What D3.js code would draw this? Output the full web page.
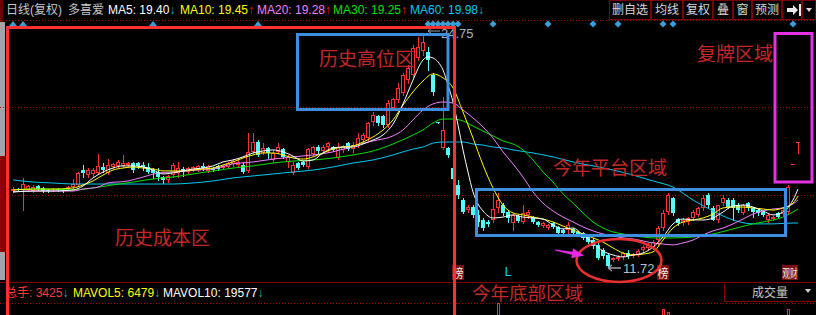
<!DOCTYPE html>
<html>
<head>
<meta charset="utf-8">
<script src="https://cdn.jsdelivr.net/npm/d3@7"></script>
<style>
  html, body { margin: 0; padding: 0; background: #000; }
  svg { display: block; }
  text { font-family: "Liberation Sans", "Noto Sans CJK SC", sans-serif; }
</style>
</head>
<body>
<div id="chart"></div>
<script>
// ---- data ----
// daily candles [open, high, low, close]
const ohlc = [
  [15.95,16.17,15.90,16.06],[16.06,16.12,15.95,16.01],[16.01,16.68,14.89,16.34],[16.01,16.29,15.95,16.23],[15.95,16.29,15.90,16.17],
  [16.23,16.29,16.01,16.06],[16.12,16.17,15.90,15.95],[16.01,16.06,15.90,15.95],[16.01,16.12,15.95,16.06],[16.06,16.12,15.95,16.01],
  [16.01,16.06,15.90,15.95],[16.06,16.23,16.01,16.17],[16.17,16.62,16.12,16.34],[16.29,17.01,16.23,16.95],[17.12,17.40,16.73,16.95],
  [16.84,17.23,16.73,17.12],[16.90,17.23,16.79,17.12],[16.95,18.01,16.90,17.34],[17.29,17.51,17.01,17.12],[16.95,17.73,16.90,17.40],
  [17.29,17.51,17.23,17.46],[17.34,17.68,17.29,17.57],[17.34,17.96,17.29,17.51],[17.40,17.57,17.34,17.51],[17.51,17.57,17.01,17.12],
  [17.51,17.57,17.23,17.34],[17.40,17.57,17.12,17.29],[17.29,17.51,16.95,17.01],[17.12,17.23,16.68,16.95],[17.01,17.23,16.57,16.73],
  [16.73,16.79,16.40,16.57],[16.57,16.84,16.45,16.79],[16.84,17.51,16.73,17.40],[16.95,17.57,16.73,17.23],[17.18,17.29,16.79,17.01],
  [17.01,17.29,16.95,17.23],[17.12,17.34,17.07,17.29],[17.18,17.40,17.07,17.34],[17.34,17.51,17.12,17.23],[17.07,17.40,17.01,17.34],
  [17.23,17.29,17.07,17.12],[17.34,17.40,17.12,17.18],[17.23,17.40,17.18,17.34],[17.29,17.57,17.23,17.51],[17.46,17.73,17.34,17.62],
  [17.40,17.73,17.29,17.57],[17.40,17.57,16.95,17.01],[17.07,19.18,17.01,18.12],[18.12,19.18,18.07,18.68],[18.68,18.79,17.90,17.96],
  [18.07,18.63,18.01,18.35],[18.35,18.40,17.79,18.07],[17.68,18.24,17.62,18.07],[18.12,18.63,18.07,18.40],[18.29,18.35,17.79,17.85],
  [17.57,17.96,17.29,17.85],[16.95,17.57,16.90,17.40],[17.51,17.57,17.18,17.23],[17.57,17.62,17.34,17.40],[17.29,18.35,17.23,18.29],
  [18.01,18.46,17.96,18.40],[18.40,18.51,18.01,18.18],[18.18,18.51,18.12,18.40],[18.40,18.68,18.12,18.63],[18.40,18.46,18.18,18.24],
  [17.79,18.63,17.73,18.40],[18.24,18.51,18.12,18.46],[18.63,18.68,18.24,18.29],[18.29,18.68,18.12,18.51],[18.51,19.18,18.40,18.90],
  [18.79,19.18,18.68,19.07],[18.90,19.79,18.79,19.74],[19.79,20.35,19.63,20.18],[20.13,20.18,19.63,19.74],[20.13,20.18,19.52,19.63],
  [19.63,21.02,19.52,20.85],[20.57,21.13,20.46,21.07],[21.02,21.97,20.91,21.69],[21.41,22.52,21.30,22.41],[22.13,22.97,21.97,22.80],
  [22.41,24.08,22.30,23.91],[23.36,24.53,23.25,23.97],[23.75,24.75,23.52,24.25],[23.69,23.97,22.69,23.25],[22.41,22.52,21.30,21.46],
  [19.80,19.82,19.74,19.77],[18.35,21.18,18.29,19.35],[18.35,18.40,17.85,17.96],[17.23,17.40,16.57,16.62],[16.29,16.57,15.56,15.73],
  [15.45,15.56,14.73,14.78],[14.89,15.17,14.78,15.06],[15.06,15.17,14.50,14.62],[14.62,14.89,14.00,14.23],[14.34,14.45,13.78,13.89],
  [14.23,14.34,14.00,14.11],[14.34,15.84,14.23,14.95],[15.01,15.84,14.78,15.45],[15.17,15.28,14.62,14.73],[14.78,14.89,14.23,14.45],
  [14.17,14.67,13.78,14.62],[14.56,14.62,14.23,14.28],[14.23,15.17,14.17,14.73],[14.62,14.89,14.45,14.78],[14.50,14.56,14.17,14.23],
  [14.23,14.28,14.00,14.06],[14.00,14.23,13.95,14.17],[13.89,14.11,13.84,14.06],[14.17,14.23,13.89,13.95],[13.95,14.00,13.56,13.61],
  [13.78,13.84,13.56,13.61],[13.78,14.23,13.61,14.06],[13.84,13.89,13.56,13.61],[13.67,13.72,13.45,13.50],[13.61,13.67,13.28,13.34],
  [13.39,13.45,13.06,13.11],[13.22,13.34,12.78,12.89],[12.95,13.06,12.17,12.22],[12.67,12.78,12.22,12.33],[12.39,12.50,11.72,11.78],
  [12.11,12.28,12.05,12.22],[12.17,12.39,12.11,12.28],[12.28,12.55,12.17,12.50],[12.50,12.67,12.22,12.33],[12.33,12.50,12.28,12.44],
  [12.39,12.72,12.33,12.61],[12.67,12.95,12.55,12.83],[12.78,13.06,12.67,12.95],[12.83,13.22,12.72,13.11],[13.22,14.00,12.95,13.89],
  [13.89,14.89,13.78,14.73],[14.78,15.84,14.67,15.73],[15.56,15.62,14.62,14.73],[14.39,14.45,14.06,14.17],[14.17,14.45,14.06,14.34],
  [14.23,14.50,14.11,14.45],[14.45,14.89,14.34,14.78],[14.62,15.06,14.56,15.01],[15.01,15.73,14.89,15.56],[15.73,15.84,15.06,15.17],
  [15.01,15.12,14.34,14.34],[14.34,15.17,14.23,15.17],[15.28,15.73,15.17,15.56],[15.45,15.56,15.01,15.06],[15.45,15.56,14.34,15.01],
  [15.17,15.28,14.78,14.89],[14.73,15.23,14.67,15.17],[15.28,15.34,14.89,15.01],[15.01,15.06,14.50,14.78],[14.89,14.95,14.62,14.73],
  [14.78,14.84,14.56,14.62],[14.34,14.73,14.23,14.62],[14.39,14.56,14.34,14.50],[14.73,14.78,14.45,14.50],[14.67,15.01,14.62,14.89],
  [14.78,16.29,14.73,16.17],[17.46,17.46,17.46,17.46],[18.68,18.70,18.07,18.70]
];

// daily volume (hands)
const volume = [
  30000,25000,60000,40000,35000,30000,28000,22000,20000,18000,
  20000,25000,45000,70000,65000,50000,48000,80000,45000,60000,
  40000,45000,55000,35000,42000,30000,32000,38000,30000,40000,
  35000,28000,60000,55000,40000,32000,30000,28000,35000,33000,
  25000,24000,26000,36000,42000,38000,40000,98000,95000,80000,
  60000,58000,50000,55000,52000,48000,60000,40000,35000,85000,
  60000,52000,48000,50000,40000,62000,45000,50000,48000,70000,
  66000,90000,88000,75000,72000,100000,92000,96000,98000,90000,
  102000,99000,101000,97000,95000,8000,104000,70000,60000,52000,
  48000,30000,42000,45000,38000,28000,90000,120000,60000,50000,
  55000,35000,60000,40000,30000,25000,22000,20000,24000,28000,
  20000,30000,22000,18000,20000,24000,26000,45000,30000,50000,
  35000,30000,32000,28000,25000,30000,34000,36000,45000,90000,
  112600,108900,100000,50000,40000,38000,45000,48000,70000,65000,
  60000,75000,66000,52000,58000,40000,45000,38000,32000,28000,
  26000,30000,22000,20000,28000,112600,3000,3425
];

// moving averages: [day index, value]
const ma5 = [[0,15.90],[4,15.95],[8,15.95],[12,16.01],[14,16.23],[16,16.68],[18,17.01],[20,17.23],[22,17.35],[24,17.35],
  [26,17.29],[28,17.12],[30,16.90],[32,16.96],[34,17.07],[36,17.18],[38,17.23],[40,17.35],[42,17.57],[44,17.68],
  [46,17.85],[48,18.07],[50,18.18],[52,18.24],[54,18.13],[56,17.90],[58,17.62],[60,17.68],[62,18.07],[64,18.35],
  [66,18.40],[68,18.40],[70,18.57],[72,18.79],[74,19.07],[76,19.68],[78,20.80],[80,22.13],[82,23.25],[83,23.42],
  [84,23.36],[85,23.14],[86,22.69],[87,21.86],[88,20.91],[89,19.63],[90,18.24],[91,17.01],[92,15.90],[93,15.23],
  [94,14.84],[96,14.45],[98,14.50],[100,14.62],[102,14.50],[104,14.45],[106,14.39],[108,14.06],[110,13.84],[112,13.89],
  [114,13.50],[116,13.06],[118,12.61],[120,12.39],[122,12.28],[124,12.39],[126,12.50],[128,12.83],[130,13.39],[132,14.12],
  [134,14.39],[136,14.34],[138,14.34],[140,14.45],[142,14.78],[144,15.12],[146,15.17],[148,15.06],[150,14.84],[152,14.62],
  [154,14.78],[156,15.45],[157,16.06]];
const ma10 = [[0,16.01],[4,16.06],[8,16.06],[12,16.12],[14,16.29],[16,16.51],[18,16.84],[20,17.12],[22,17.23],[24,17.29],
  [26,17.23],[28,17.18],[30,17.07],[32,17.07],[34,17.07],[36,17.12],[38,17.18],[40,17.23],[42,17.40],[44,17.57],
  [46,17.79],[48,17.96],[50,18.07],[52,18.07],[54,17.96],[56,17.79],[58,17.73],[60,17.85],[62,18.07],[64,18.29],
  [66,18.40],[68,18.46],[70,18.68],[72,18.96],[74,19.35],[76,19.91],[78,20.74],[80,21.47],[82,22.08],[84,22.47],
  [86,22.25],[88,21.69],[90,20.35],[92,18.90],[94,17.40],[96,16.12],[98,15.17],[100,14.73],[102,14.62],[104,14.50],
  [106,14.39],[108,14.23],[110,14.00],[112,13.78],[114,13.56],[116,13.34],[118,13.11],[120,12.78],[122,12.50],[124,12.39],
  [126,12.44],[128,12.56],[130,13.22],[132,13.89],[134,14.23],[136,14.34],[138,14.45],[140,14.67],[142,15.01],[144,15.06],
  [146,15.06],[148,15.01],[150,14.95],[152,14.89],[154,15.01],[156,15.28],[157,15.67]];
const ma20 = [[0,15.90],[4,15.95],[8,15.95],[12,15.95],[14,16.06],[17,16.17],[19,16.40],[23,16.51],[26,16.73],[29,16.95],
  [32,17.01],[37,17.12],[40,17.18],[44,17.46],[48,17.57],[52,17.73],[56,17.85],[60,17.96],[64,18.13],[68,18.46],
  [72,18.74],[76,19.02],[78,19.35],[80,19.91],[82,20.46],[84,20.80],[86,20.91],[88,20.85],[90,20.46],[92,20.02],
  [94,19.52],[96,18.90],[98,18.13],[100,17.46],[102,16.73],[104,15.90],[106,15.28],[108,14.84],[110,14.50],[112,14.23],
  [114,13.95],[116,13.73],[118,13.56],[120,13.45],[122,13.34],[124,13.28],[126,13.17],[128,13.06],[130,13.00],[132,12.95],
  [134,13.06],[136,13.22],[138,13.50],[140,13.73],[142,13.89],[144,14.12],[146,14.39],[148,14.67],[150,14.84],[152,14.95],
  [154,15.01],[156,15.23],[157,15.45]];
const ma30 = [[0,16.01],[4,16.06],[8,16.06],[12,16.01],[16,16.12],[20,16.29],[24,16.45],[28,16.62],[32,16.73],[36,16.90],
  [40,17.07],[44,17.23],[48,17.35],[52,17.51],[56,17.62],[60,17.68],[64,17.79],[68,17.96],[72,18.18],[76,18.57],
  [80,19.07],[82,19.35],[84,19.74],[86,19.96],[88,19.96],[90,19.85],[92,19.57],[94,19.29],[96,19.02],[98,18.74],
  [100,18.57],[102,18.24],[104,17.68],[106,17.01],[108,16.45],[110,15.79],[112,15.28],[114,14.73],[116,14.23],[118,13.89],
  [120,13.67],[122,13.56],[124,13.45],[126,13.39],[128,13.34],[132,13.34],[136,13.39],[140,13.56],[144,13.84],[148,14.12],
  [152,14.34],[154,14.50],[156,14.78],[157,14.95]];
const ma60 = [[0,16.57],[4,16.45],[8,16.40],[12,16.34],[20,16.34],[28,16.34],[32,16.34],[36,16.40],[40,16.51],[44,16.68],
  [48,16.79],[52,16.90],[56,17.01],[60,17.12],[64,17.29],[68,17.51],[72,17.68],[76,17.96],[80,18.29],[82,18.40],
  [84,18.62],[86,18.68],[90,18.68],[92,18.57],[94,18.51],[96,18.40],[98,18.35],[100,18.24],[104,18.07],[108,17.85],
  [112,17.57],[116,17.35],[120,17.12],[124,16.84],[128,16.51],[132,16.17],[136,15.45],[140,14.84],[144,14.34],[148,14.12],
  [152,14.12],[156,14.17],[157,14.17]];

// header values
const maNames = ["MA5", "MA10", "MA20", "MA30", "MA60"];
const maLast = [19.40, 19.45, 19.28, 19.25, 19.98];
const maTrend = ["↓", "↑", "↑", "↑", "↓"];
const volNames = ["总手", "MAVOL5", "MAVOL10"];
const volLast = [3425, 6479, 19577];

// event markers (day indices)
const triangleDays = [0, 2, 28, 49];
const diamondDays = [83, 84, 85, 86, 87, 88, 89, 96, 107, 116, 121, 130, 132, 156];
const tagDays = [89, 130, 155];
const tagText = ["榜", "榜", "观财"];
const lowMarkDay = 99;

const buttons = ["删自选", "均线", "复权", "叠", "窗", "预测"];

// ---- layout ----
const W = 816, H = 315;
const panelTop = 20, panelBottom = 282;
const RED = "#ff3232", CYAN = "#54fcfc", DOWN = "#2ab7a9", UP = "#ff2020";
const maColors = ["#ffffff", "#ffff00", "#f080ff", "#00e000", "#00c8f0"];

const svg = d3.select("#chart").append("svg")
    .attr("width", W)
    .attr("height", H);

svg.append("rect").attr("width", W).attr("height", H).attr("fill", "#000");

const x = d3.scaleLinear().domain([0, ohlc.length - 1]).range([13, 798]);
const y = d3.scaleLinear().domain([11.72, 24.75]).range([267, 33]);
const vy = d3.scaleLinear().domain([0, 120000]).range([400, 303]);

// left scroll strip
svg.append("rect").attr("x", 0).attr("y", 22).attr("width", 5).attr("height", 258).attr("fill", "#a4a4a4");
svg.append("rect").attr("x", 0).attr("y", 156).attr("width", 5).attr("height", 96).attr("fill", "#8b0000");
svg.append("rect").attr("x", 0).attr("y", 0).attr("width", 3).attr("height", 22).attr("fill", "#6b0000");

// grid lines
const third = (panelBottom - panelTop) / 3;
[panelTop, panelTop + third, panelTop + 2 * third, 303].forEach(gy => {
  svg.append("line")
      .attr("x1", 0).attr("x2", W)
      .attr("y1", Math.round(gy) + 0.5).attr("y2", Math.round(gy) + 0.5)
      .attr("stroke", "#a00000")
      .attr("stroke-dasharray", "1,2");
});
svg.append("line")
    .attr("x1", 0).attr("x2", W)
    .attr("y1", panelBottom + 0.5).attr("y2", panelBottom + 0.5)
    .attr("stroke", "#800000");

// volume bars (panel runs below the window)
const vg = svg.append("g");
volume.forEach((v, i) => {
  const X = Math.round(x(i));
  const up = ohlc[i][3] >= ohlc[i][0];
  const top = Math.round(vy(v));
  if (up) {
    vg.append("rect").attr("x", X - 0.5).attr("y", top + 0.5).attr("width", 2).attr("height", 420 - top)
        .attr("fill", "#000").attr("stroke", RED);
  } else {
    vg.append("rect").attr("x", X - 1).attr("y", top).attr("width", 3).attr("height", 420 - top)
        .attr("fill", CYAN);
  }
});

// candles
const cg = svg.append("g");
ohlc.forEach((d, i) => {
  const [o, h, l, c] = d;
  const X = Math.round(x(i));
  const up = c >= o;
  const col = up ? RED : CYAN;
  const hy = Math.round(y(h)), ly = Math.round(y(l));
  const t = Math.round(y(Math.max(o, c))), b = Math.round(y(Math.min(o, c)));
  cg.append("rect").attr("x", X).attr("y", hy).attr("width", 1).attr("height", ly - hy + 1).attr("fill", col);
  if (b - t < 2) {
    cg.append("rect").attr("x", X - 2).attr("y", t).attr("width", 4).attr("height", 1).attr("fill", col);
  } else if (up) {
    cg.append("rect").attr("x", X - 1.5).attr("y", t + 0.5).attr("width", 3).attr("height", b - t - 1)
        .attr("fill", "#000").attr("stroke", col);
  } else {
    cg.append("rect").attr("x", X - 2).attr("y", t).attr("width", 4).attr("height", b - t).attr("fill", col);
  }
});

// moving average lines
const line = d3.line()
    .x(d => x(d[0]))
    .y(d => y(d[1]))
    .curve(d3.curveMonotoneX);
[ma60, ma30, ma20, ma10, ma5].forEach((s, k) => {
  svg.append("path")
      .datum(s)
      .attr("fill", "none")
      .attr("stroke", maColors[4 - k])
      .attr("stroke-width", 1)
      .attr("d", line);
});

// top event markers
triangleDays.forEach(i => {
  const X = x(i);
  svg.append("path").attr("d", `M${X - 4},26 L${X + 4},26 L${X},21 Z`).attr("fill", "#3a9fd5");
});
diamondDays.forEach(i => {
  const X = x(i);
  svg.append("path").attr("d", `M${X},20.5 L${X + 3.5},24 L${X},27.5 L${X - 3.5},24 Z`).attr("fill", "#3a9fd5");
});

// high / low labels
const hiIdx = d3.maxIndex(ohlc, d => d[1]);
const loIdx = d3.minIndex(ohlc, d => d[2]);
const hiX = x(hiIdx) + 5, hiY = y(ohlc[hiIdx][1]) - 2;
svg.append("path").attr("d", `M${hiX},${hiY} L${hiX + 4},${hiY - 3} M${hiX},${hiY} L${hiX + 4},${hiY + 3} M${hiX},${hiY} L${hiX + 12},${hiY}`)
    .attr("stroke", "#9aa0a8").attr("fill", "none");
svg.append("text").attr("x", hiX + 13).attr("y", hiY + 7).attr("font-size", 13).attr("fill", "#a8b4c4")
    .text(ohlc[hiIdx][1].toFixed(2));
const loX = x(loIdx), loY = y(ohlc[loIdx][2]) + 1;
svg.append("path").attr("d", `M${loX},${loY} L${loX + 4},${loY - 3} M${loX},${loY} L${loX + 4},${loY + 3} M${loX},${loY} L${loX + 13},${loY}`)
    .attr("stroke", "#a0a0a8").attr("stroke-width", 1.3).attr("fill", "none");
svg.append("text").attr("x", loX + 15).attr("y", loY + 5).attr("font-size", 13).attr("fill", "#b4c0d0")
    .text(ohlc[loIdx][2].toFixed(2));

// bottom tags
tagDays.forEach((i, k) => {
  const w = tagText[k].length > 1 ? 16 : 12;
  const cx = x(i) + (w > 12 ? 2 : 0);
  svg.append("rect").attr("x", cx - w / 2).attr("y", 265).attr("width", w).attr("height", 15).attr("fill", "#7a1010");
  svg.append("text").attr("x", cx).attr("y", 278).attr("text-anchor", "middle")
      .attr("font-size", 12).attr("fill", "#f0f0f0")
      .attr("textLength", w - 1).attr("lengthAdjust", "spacingAndGlyphs")
      .text(tagText[k]);
});
svg.append("text").attr("x", x(lowMarkDay)).attr("y", 276).attr("text-anchor", "middle")
    .attr("font-size", 12).attr("fill", "#00d8ff").text("L");

// header line
const header = svg.append("text").attr("y", 14).attr("font-size", 12);
header.append("tspan").attr("x", 6).attr("fill", "#c8c8c8").text("日线(复权)");
header.append("tspan").attr("x", 68).attr("fill", "#c8c8c8").text("多喜爱");
const headerX = [108, 180, 257, 333, 410];
maNames.forEach((n, k) => {
  header.append("tspan").attr("x", headerX[k]).attr("fill", maColors[k]).text(`${n}: ${maLast[k].toFixed(2)}`);
  header.append("tspan").attr("fill", maTrend[k] === "↑" ? UP : DOWN).text(maTrend[k]);
});

// toolbar buttons
const edges = [609, 651, 683, 713, 733, 752, 782, 802, 816];
for (let k = 0; k < edges.length - 1; k++) {
  svg.append("rect").attr("x", edges[k] + 0.5).attr("y", 0.5)
      .attr("width", edges[k + 1] - edges[k] - 1).attr("height", 19)
      .attr("fill", "#000").attr("stroke", "#7a0000");
}
buttons.forEach((b, k) => {
  svg.append("text").attr("x", (edges[k] + edges[k + 1]) / 2).attr("y", 14)
      .attr("text-anchor", "middle").attr("font-size", 12).attr("fill", "#d8d8d8").text(b);
});
svg.append("path").attr("d", "M787,8 H793 V5 L798,10 L793,15 V12 H787 Z M799,4 H801 V16 H799 Z").attr("fill", "#e8e8e8");
svg.append("path").attr("d", "M806,8 H812 L809,12 Z").attr("fill", "#e0e0e0");

// volume header line
const vh = svg.append("text").attr("y", 297).attr("font-size", 12);
const volColors = ["#ff3a3a", "#ffff00", "#ffffff"];
const volX = [5, 73, 163];
volNames.forEach((n, k) => {
  vh.append("tspan").attr("x", volX[k]).attr("fill", volColors[k]).text(`${n}: ${volLast[k]}`);
  vh.append("tspan").attr("fill", DOWN).text("↓");
});
svg.append("rect").attr("x", 724.5).attr("y", 282.5).attr("width", 93).attr("height", 19)
    .attr("fill", "#000").attr("stroke", "#800000");
svg.append("text").attr("x", 752).attr("y", 297).attr("font-size", 12).attr("fill", "#c8c8c8").text("成交量");
svg.append("path").attr("d", "M805,289 H811 L808,293 Z").attr("fill", "#d0d0d0");

// ---- hand-drawn annotations ----
const note = "#c42828";
svg.append("path").attr("d", "M7.5,330 V27.5 H454.5 V330")
    .attr("fill", "none").attr("stroke", "#ff3030").attr("stroke-width", 3);
const boxes = [
  {x0: 297.5, y0: 34.5, x1: 448, y1: 109.5, c: "#3c8ee0"},
  {x0: 476.5, y0: 189.5, x1: 785.5, y1: 235.5, c: "#3c8ee0"},
  {x0: 775, y0: 33.5, x1: 812, y1: 182, c: "#e232e2"}
];
boxes.forEach(b => {
  svg.append("rect").attr("x", b.x0).attr("y", b.y0).attr("width", b.x1 - b.x0).attr("height", b.y1 - b.y0)
      .attr("fill", "none").attr("stroke", b.c).attr("stroke-width", 3);
});
svg.append("ellipse").attr("cx", 619).attr("cy", 260.5).attr("rx", 42.5).attr("ry", 21.5)
    .attr("fill", "none").attr("stroke", "#e83030").attr("stroke-width", 2.5);

// magenta arrow
const tail = [555, 250], tip = [584, 255.5];
const dx = tip[0] - tail[0], dy = tip[1] - tail[1], len = Math.hypot(dx, dy);
const ux = dx / len, uy = dy / len, nx = -uy, ny = ux;
const base = [tip[0] - 12 * ux, tip[1] - 12 * uy];
const pts = [
  [tail[0] + 0.6 * nx, tail[1] + 0.6 * ny],
  [base[0] + 1.6 * nx, base[1] + 1.6 * ny],
  [base[0] + 5 * nx, base[1] + 5 * ny],
  tip,
  [base[0] - 5 * nx, base[1] - 5 * ny],
  [base[0] - 1.6 * nx, base[1] - 1.6 * ny],
  [tail[0] - 0.6 * nx, tail[1] - 0.6 * ny]
];
svg.append("path").attr("d", "M" + pts.map(p => p.join(",")).join("L") + "Z").attr("fill", "#e628e6");

const notes = [
  {t: "历史高位区", x: 319, y: 66, s: 19},
  {t: "今年平台区域", x: 553, y: 175, s: 19},
  {t: "历史成本区", x: 115, y: 245, s: 19},
  {t: "今年底部区域", x: 472, y: 300, s: 18.5},
  {t: "复牌区域", x: 697, y: 61, s: 19}
];
notes.forEach(n => {
  svg.append("text").attr("x", n.x).attr("y", n.y)
      .attr("font-size", n.s).attr("fill", note)
      .style("font-family", "'Noto Sans CJK SC', sans-serif")
      .text(n.t);
});
</script>
</body>
</html>
